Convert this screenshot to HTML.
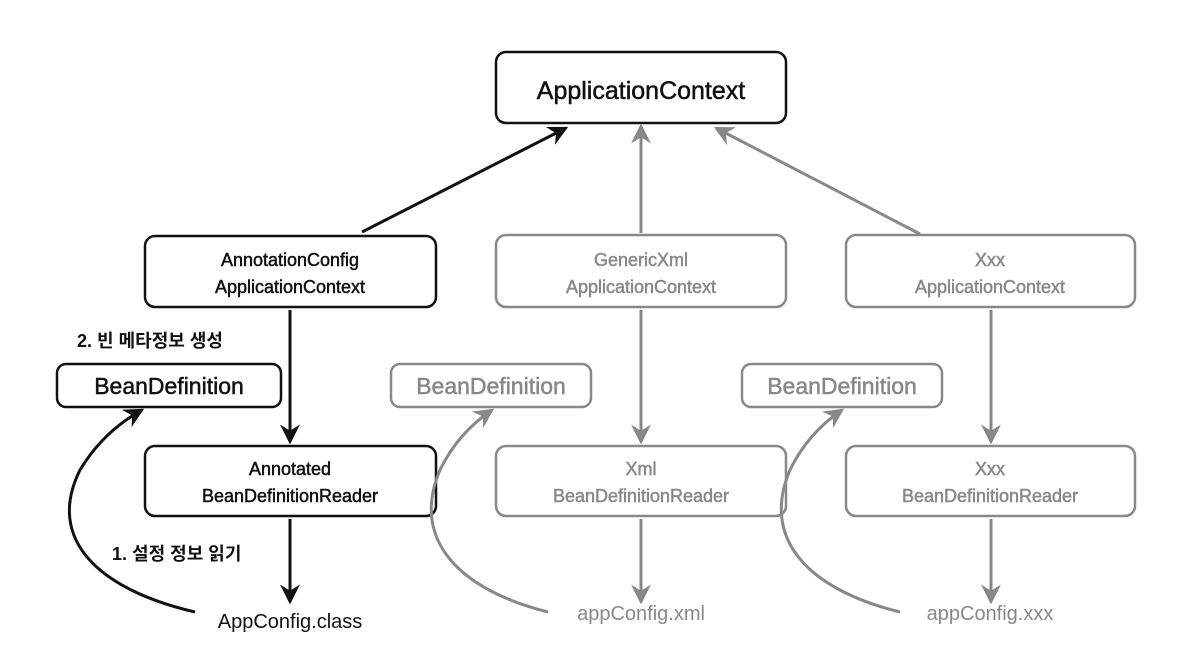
<!DOCTYPE html>
<html><head><meta charset="utf-8"><style>
body{margin:0;background:#fff;}
svg text{font-family:"Liberation Sans","Noto Sans CJK KR",sans-serif;}
</style></head><body>
<svg width="1179" height="644" viewBox="0 0 1179 644" xmlns="http://www.w3.org/2000/svg">
<defs>
<marker id="ab" markerWidth="20" markerHeight="20" refX="14" refY="8" orient="auto" markerUnits="userSpaceOnUse" viewBox="0 0 16 16"><path d="M0,0 L16,8 L0,16 L5,8 z" fill="#111"/></marker>
<marker id="ag" markerWidth="20" markerHeight="20" refX="14" refY="8" orient="auto" markerUnits="userSpaceOnUse" viewBox="0 0 16 16"><path d="M0,0 L16,8 L0,16 L5,8 z" fill="#888"/></marker>
</defs>
<g fill="none" stroke-width="2.5">
<rect x="496" y="52" width="290" height="71" rx="10" stroke="#111"/>
<rect x="145" y="236" width="291" height="71" rx="10" stroke="#111"/>
<rect x="57" y="364" width="224" height="43" rx="9" stroke="#111"/>
<rect x="145" y="446" width="291" height="70" rx="10" stroke="#111"/>
<rect x="496" y="235" width="290" height="72" rx="10" stroke="#888"/>
<rect x="846" y="235" width="289" height="72" rx="10" stroke="#888"/>
<rect x="391" y="364" width="200" height="43" rx="9" stroke="#888"/>
<rect x="742" y="364" width="200" height="43" rx="9" stroke="#888"/>
<rect x="496" y="446" width="290" height="70" rx="10" stroke="#888"/>
<rect x="846" y="446" width="289" height="70" rx="10" stroke="#888"/>
</g>
<g fill="none" stroke-width="3">
<line x1="362" y1="232" x2="566" y2="128" stroke="#111" marker-end="url(#ab)"/>
<line x1="641" y1="233" x2="641" y2="126" stroke="#888" marker-end="url(#ag)"/>
<line x1="920" y1="234" x2="716" y2="128" stroke="#888" marker-end="url(#ag)"/>
<line x1="290" y1="310" x2="290" y2="442" stroke="#111" marker-end="url(#ab)"/>
<line x1="290" y1="519" x2="290" y2="602" stroke="#111" marker-end="url(#ab)"/>
<line x1="641" y1="310" x2="641" y2="442" stroke="#888" marker-end="url(#ag)"/>
<line x1="641" y1="519" x2="641" y2="602" stroke="#888" marker-end="url(#ag)"/>
<line x1="991" y1="310" x2="991" y2="442" stroke="#888" marker-end="url(#ag)"/>
<line x1="991" y1="519" x2="991" y2="602" stroke="#888" marker-end="url(#ag)"/>
<path d="M195,612 C100,590 45,540 80,470 C95,445 115,425 142,410" stroke="#111" marker-end="url(#ab)"/>
<path d="M548,612 C460,590 410,540 440,470 C452,445 470,425 492,410" stroke="#888" marker-end="url(#ag)"/>
<path d="M900,612 C810,590 760,540 790,470 C802,445 820,425 842,410" stroke="#888" marker-end="url(#ag)"/>
</g>
<g text-anchor="middle" stroke-width="0.5">
<text x="641" y="99" font-size="25" fill="#111" stroke="#111">ApplicationContext</text>
<text x="290" y="266" font-size="18" fill="#111" stroke="#111">AnnotationConfig</text>
<text x="290" y="293" font-size="18" fill="#111" stroke="#111">ApplicationContext</text>
<text x="169" y="394" font-size="23" fill="#111" stroke="#111">BeanDefinition</text>
<text x="290" y="475" font-size="18" fill="#111" stroke="#111">Annotated</text>
<text x="290" y="502" font-size="18" fill="#111" stroke="#111">BeanDefinitionReader</text>
<text x="290" y="628" font-size="20" fill="#111">AppConfig.class</text>
<text x="641" y="266" font-size="18" fill="#888" stroke="#888">GenericXml</text>
<text x="641" y="293" font-size="18" fill="#888" stroke="#888">ApplicationContext</text>
<text x="990" y="266" font-size="18" fill="#888" stroke="#888">Xxx</text>
<text x="990" y="293" font-size="18" fill="#888" stroke="#888">ApplicationContext</text>
<text x="491" y="394" font-size="23" fill="#888" stroke="#888">BeanDefinition</text>
<text x="842" y="394" font-size="23" fill="#888" stroke="#888">BeanDefinition</text>
<text x="641" y="475" font-size="18" fill="#888" stroke="#888">Xml</text>
<text x="641" y="502" font-size="18" fill="#888" stroke="#888">BeanDefinitionReader</text>
<text x="990" y="475" font-size="18" fill="#888" stroke="#888">Xxx</text>
<text x="990" y="502" font-size="18" fill="#888" stroke="#888">BeanDefinitionReader</text>
<text x="641" y="620" font-size="20" fill="#888">appConfig.xml</text>
<text x="990" y="620" font-size="20" fill="#888">appConfig.xxx</text>
</g>
<text x="77" y="347" font-size="18" font-weight="bold" fill="#111">2. 빈 메타정보 생성</text>
<text x="112" y="560" font-size="18" font-weight="bold" fill="#111">1. 설정 정보 읽기</text>
</svg>
</body></html>
